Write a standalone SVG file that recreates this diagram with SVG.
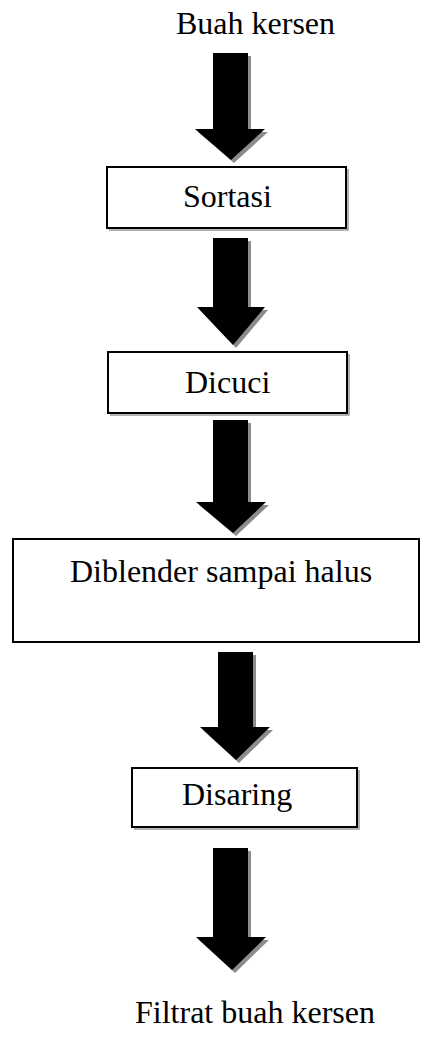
<svg xmlns="http://www.w3.org/2000/svg" width="421" height="1045" viewBox="0 0 421 1045">
<style>
text{font-family:"Liberation Serif","Times New Roman",serif;font-size:32px;fill:#000}
.box{fill:#fff;stroke:#000;stroke-width:2}
.bsh{fill:none;stroke:#999;stroke-width:1.5}
.arr{fill:#000}
.ash{fill:#8c8c8c}
</style>
<g id="start"><text x="176" y="34">Buah kersen</text></g>
<g id="connectors">
<polygon class="ash" points="216,56 251,56 251,132 268,132 234,163 198,132 216,132"/>
<polygon class="arr" points="213,53 248,53 248,129 265,129 231,160 195,129 213,129"/>
<polygon class="ash" points="216,241 251,241 251,310 268,310 236,348 200,310 216,310"/>
<polygon class="arr" points="213,238 248,238 248,307 265,307 233,345 197,307 213,307"/>
<polygon class="ash" points="216,423 251,423 251,505 269,505 236,536 199,505 216,505"/>
<polygon class="arr" points="213,420 248,420 248,502 266,502 233,533 196,502 213,502"/>
<polygon class="ash" points="221,655 256,655 256,730 273,730 239,763 203,730 221,730"/>
<polygon class="arr" points="218,652 253,652 253,727 270,727 236,760 200,727 218,727"/>
<polygon class="ash" points="216,851 251,851 251,940 269,940 235,973 199,940 216,940"/>
<polygon class="arr" points="213,848 248,848 248,937 266,937 232,970 196,937 213,937"/>
</g>
<g id="sortasi">
<path class="bsh" d="M348,169 V230 H109"/>
<rect class="box" x="107" y="167" width="239" height="61"/>
<text x="183" y="207">Sortasi</text>
</g>
<g id="dicuci">
<path class="bsh" d="M349,354 V415 H110"/>
<rect class="box" x="108" y="352" width="239" height="61"/>
<text x="185" y="393">Dicuci</text>
</g>
<g id="diblender">
<rect class="box" x="13" y="539" width="406" height="103"/>
<text x="70" y="582">Diblender sampai halus</text>
</g>
<g id="disaring">
<path class="bsh" d="M359,770 V829 H134"/>
<rect class="box" x="132" y="768" width="225" height="59"/>
<text x="182" y="805">Disaring</text>
</g>
<g id="end"><text x="135" y="1023">Filtrat buah kersen</text></g>
</svg>
